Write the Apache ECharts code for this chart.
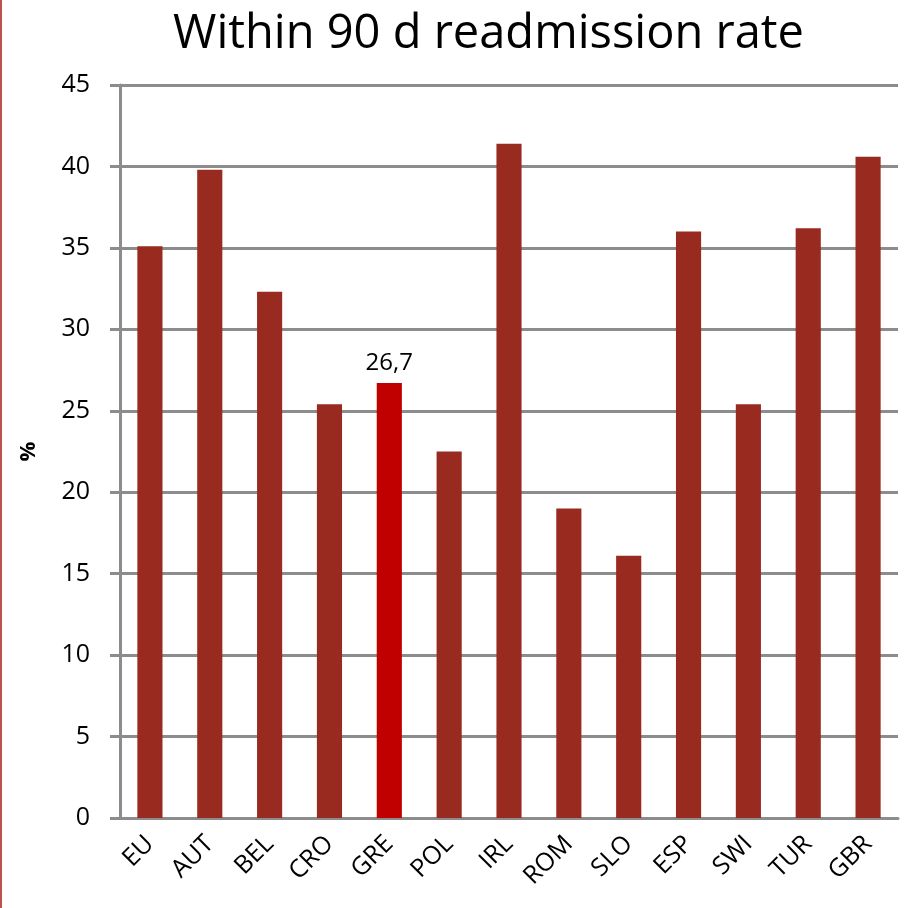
<!DOCTYPE html>
<html>
<head>
<meta charset="UTF-8"/>
<title>Within 90 d readmission rate</title>
<script src="https://cdn.jsdelivr.net/npm/echarts@6/dist/echarts.min.js"></script>
<style>
html,body{margin:0;padding:0;background:#fff;}
#main{width:906px;height:908px;box-sizing:border-box;border-left:2px solid #c0504d;}
</style>
</head>
<body>
<div id="main"></div>
<script type="text/javascript">
var countries = ['EU','AUT','BEL','CRO','GRE','POL','IRL','ROM','SLO','ESP','SWI','TUR','GBR'];
var rates = [35.1, 39.8, 32.3, 25.4, 26.7, 22.5, 41.4, 19.0, 16.1, 36.0, 25.4, 36.2, 40.6];
var highlight = 'GRE';

var barColor = '#992a20';
var hiColor = '#c00000';
var gridColor = '#8c8c8c';
var font = 'Open Sans';

var seriesData = countries.map(function(c, i){
	if(c == highlight){
		return {
			value: rates[i],
			itemStyle: {color: hiColor},
			label: {
				show: true,
				position: 'top',
				distance: 8,
				color: '#000',
				fontSize: 24,
				fontFamily: font,
				formatter: function(p){ return String(p.value).replace('.', ','); }
			}
		};
	}
	return rates[i];
});

var myChart = echarts.init(document.getElementById('main'));
var option = {
	animation: false,
	title: {
		text: 'Within 90 d readmission rate',
		left: 166,
		top: 6,
		textStyle: {fontFamily: font, fontWeight: 'normal', fontSize: 47, color: '#000'}
	},
	grid: {left: 118, right: 8, top: 85, bottom: 90},
	xAxis: {
		type: 'category',
		data: countries,
		axisLine: {lineStyle: {color: gridColor, width: 3}},
		axisTick: {show: false},
		axisLabel: {interval: 0, rotate: 45, margin: 22, color: '#000', fontSize: 25, fontFamily: font}
	},
	yAxis: {
		type: 'value',
		min: 0,
		max: 45,
		interval: 5,
		name: '%',
		nameLocation: 'middle',
		nameGap: 80,
		nameTextStyle: {fontSize: 22, fontWeight: 'bold', color: '#000', fontFamily: font},
		axisLine: {show: true, lineStyle: {color: gridColor, width: 3}},
		axisTick: {show: true, length: 10, lineStyle: {color: gridColor, width: 3}},
		axisLabel: {margin: 30, color: '#000', fontSize: 25, fontFamily: font},
		splitLine: {lineStyle: {color: gridColor, width: 3}}
	},
	series: [{
		type: 'bar',
		data: seriesData,
		barWidth: '42%',
		itemStyle: {color: barColor}
	}]
};
myChart.setOption(option);
</script>
</body>
</html>
